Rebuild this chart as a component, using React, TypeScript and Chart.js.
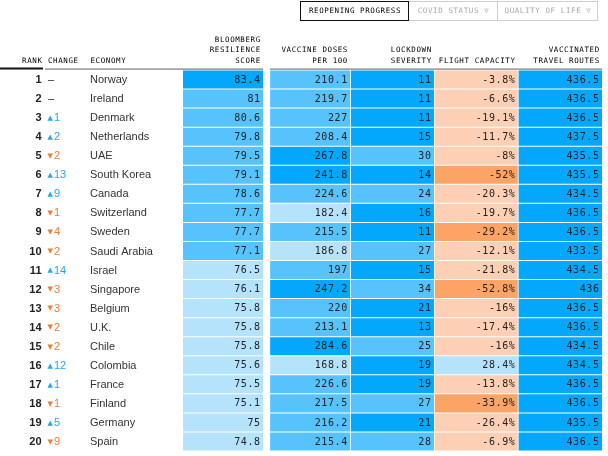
import React, { useEffect, useRef } from "react";
import { Chart, registerables } from "chart.js";

Chart.register(...registerables);

// ---- Data ----
const ranks = [1, 2, 3, 4, 5, 6, 7, 8, 9, 10, 11, 12, 13, 14, 15, 16, 17, 18, 19, 20];
const changes = [0, 0, 1, 2, -2, 13, 9, -1, -4, -2, 14, -3, -3, -2, -2, 12, 1, -1, 5, -9];
const economies = [
  "Norway", "Ireland", "Denmark", "Netherlands", "UAE", "South Korea", "Canada",
  "Switzerland", "Sweden", "Saudi Arabia", "Israel", "Singapore", "Belgium", "U.K.",
  "Chile", "Colombia", "France", "Finland", "Germany", "Spain",
];
const resilienceScore = [83.4, 81, 80.6, 79.8, 79.5, 79.1, 78.6, 77.7, 77.7, 77.1, 76.5, 76.1, 75.8, 75.8, 75.8, 75.6, 75.5, 75.1, 75, 74.8];
const vaccineDoses = [210.1, 219.7, 227, 208.4, 267.8, 241.8, 224.6, 182.4, 215.5, 186.8, 197, 247.2, 220, 213.1, 284.6, 168.8, 226.6, 217.5, 216.2, 215.4];
const lockdownSeverity = [11, 11, 11, 15, 30, 14, 24, 16, 11, 27, 15, 34, 21, 13, 25, 19, 19, 27, 21, 28];
const flightCapacity = [-3.8, -6.6, -19.1, -11.7, -8, -52, -20.3, -19.7, -29.2, -12.1, -21.8, -52.8, -16, -17.4, -16, 28.4, -13.8, -33.9, -26.4, -6.9];
const travelRoutes = [436.5, 436.5, 436.5, 437.5, 435.5, 435.5, 434.5, 436.5, 436.5, 433.5, 434.5, 436, 436.5, 436.5, 434.5, 434.5, 436.5, 436.5, 435.5, 436.5];

const columnHeaders = [
  ["BLOOMBERG", "RESILIENCE", "SCORE"],
  ["VACCINE DOSES", "PER 100"],
  ["LOCKDOWN", "SEVERITY"],
  ["FLIGHT CAPACITY"],
  ["VACCINATED", "TRAVEL ROUTES"],
];
const leftHeaders = ["RANK", "CHANGE", "ECONOMY"];
const tabs = ["REOPENING PROGRESS", "COVID STATUS \u25BD", "QUALITY OF LIFE \u25BD"];

// ---- Styles ----
const COLORS = {
  dark: "#03a7fb",
  mid: "#57c3fc",
  light: "#b5e3fc",
  peach: "#fdcfb4",
  orange: "#fca366",
};
const UP = "#22a8f2";
const DOWN = "#f47c32";

const colorResilience = (v: number) => (v >= 83 ? COLORS.dark : v >= 77 ? COLORS.mid : COLORS.light);
const colorVaccine = (v: number) => (v >= 235 ? COLORS.dark : v >= 190 ? COLORS.mid : COLORS.light);
const colorLockdown = (v: number) => (v <= 21 ? COLORS.dark : COLORS.mid);
const colorFlight = (v: number) => (v >= 0 ? COLORS.light : v <= -29 ? COLORS.orange : COLORS.peach);
const colorTravel = (_v: number) => COLORS.dark;

// column spans in x-scale units (layout)
const SPANS: [number, number][] = [
  [0, 0.955],
  [1.04, 1.995],
  [2.005, 2.995],
  [3.005, 3.995],
  [4.005, 5],
];

const MONO = '"DejaVu Sans Mono", monospace';
const SANS = '"Liberation Sans", Arial, sans-serif';

const tablePlugin = {
  id: "tablePlugin",
  afterDatasetsDraw(chart: any) {
    const ctx = chart.ctx as CanvasRenderingContext2D;
    ctx.save();
    ctx.textAlign = "right";
    ctx.textBaseline = "middle";
    ctx.font = `10px ${MONO}`;
    (ctx as any).letterSpacing = "0.6px";
    ctx.fillStyle = "#222";
    chart.data.datasets.forEach((ds: any, di: number) => {
      const meta = chart.getDatasetMeta(di);
      meta.data.forEach((el: any, i: number) => {
        const right = Math.max(el.x, el.base);
        ctx.fillText(ds.texts[i], right - 2.4, el.y + 0.5);
      });
    });
    ctx.restore();
  },
  afterDraw(chart: any) {
    const ctx = chart.ctx as CanvasRenderingContext2D;
    const xs = chart.scales.x;
    const ys = chart.scales.y;
    ctx.save();

    // left columns
    ctx.textBaseline = "middle";
    (ctx as any).letterSpacing = "0px";
    economies.forEach((name, i) => {
      const y = ys.getPixelForValue(i) + 0.5;
      ctx.textAlign = "right";
      ctx.font = `bold 11px ${SANS}`;
      ctx.fillStyle = "#222";
      ctx.fillText(String(ranks[i]), 41.5, y);

      ctx.textAlign = "left";
      const c = changes[i];
      if (c === 0) {
        ctx.font = `11px ${SANS}`;
        ctx.fillStyle = "#222";
        ctx.fillText("\u2013", 48, y);
      } else {
        const col = c > 0 ? UP : DOWN;
        ctx.fillStyle = col;
        ctx.font = `7px "DejaVu Sans", sans-serif`;
        ctx.fillText(c > 0 ? "\u25B2" : "\u25BC", 47.5, y);
        ctx.font = `11px ${SANS}`;
        ctx.fillText(String(Math.abs(c)), 54, y);
      }

      ctx.font = `11px ${SANS}`;
      ctx.fillStyle = "#333";
      ctx.fillText(name, 90, y);
    });

    // headers
    ctx.font = `7.5px ${MONO}`;
    (ctx as any).letterSpacing = "0.6px";
    ctx.fillStyle = "#000";
    const lastLineY = 61;
    const pitch = 10.5;
    ctx.textAlign = "right";
    ctx.fillText(leftHeaders[0], 42.5, lastLineY);
    ctx.textAlign = "left";
    ctx.fillText(leftHeaders[1], 48, lastLineY);
    ctx.fillText(leftHeaders[2], 90.5, lastLineY);
    ctx.textAlign = "right";
    columnHeaders.forEach((lines, ci) => {
      const right = xs.getPixelForValue(SPANS[ci][1]) - 2.2;
      lines.forEach((line, li) => {
        const y = lastLineY - (lines.length - 1 - li) * pitch;
        ctx.fillText(line, right, y);
      });
    });

    // header rules
    ctx.fillStyle = "#111";
    ctx.fillRect(0, 67.5, 43, 2);
    ctx.fillStyle = "#7a7a7a";
    const top = chart.chartArea.top;
    ctx.fillRect(45, top - 1.5, xs.getPixelForValue(SPANS[0][1]) - 45, 1.2);
    ctx.fillRect(
      xs.getPixelForValue(SPANS[1][0]),
      top - 1.5,
      xs.getPixelForValue(SPANS[4][1]) - xs.getPixelForValue(SPANS[1][0]),
      1.2
    );

    // tabs
    const tabEdges = [300, 408, 497, 597];
    const tabTop = 1.5;
    const tabH = 19;
    ctx.lineWidth = 1;
    ctx.strokeStyle = "#cfcfcf";
    for (let t = 1; t < 3; t++) {
      ctx.strokeRect(tabEdges[t] + 0.5, tabTop, tabEdges[t + 1] - tabEdges[t], tabH);
    }
    ctx.strokeStyle = "#111";
    ctx.strokeRect(tabEdges[0] + 0.5, tabTop, tabEdges[1] - tabEdges[0], tabH);
    ctx.textAlign = "center";
    ctx.font = `7.5px ${MONO}`;
    (ctx as any).letterSpacing = "0.6px";
    tabs.forEach((label, t) => {
      ctx.fillStyle = t === 0 ? "#000" : "#a8a8a8";
      const cx = (tabEdges[t] + tabEdges[t + 1]) / 2 + 1;
      ctx.fillText(label, cx, tabTop + tabH / 2 + 0.5);
    });

    ctx.restore();
  },
};

function makeDataset(values: number[], span: [number, number], colorFn: (v: number) => string, fmt: (v: number) => string) {
  return {
    data: values.map((_, i) => ({ x: [span[0], span[1]], y: economies[i] })),
    backgroundColor: values.map(colorFn),
    texts: values.map(fmt),
    borderWidth: 0,
    borderSkipped: false,
    grouped: false,
    barPercentage: 0.945,
    categoryPercentage: 1,
  };
}

export default function App() {
  const ref = useRef<HTMLCanvasElement | null>(null);
  useEffect(() => {
    document.body.style.margin = "0";
    const canvas = ref.current;
    if (!canvas) return;
    const fmt = (v: number) => String(v);
    const chart = new Chart(canvas, {
      type: "bar",
      data: {
        labels: economies,
        datasets: [
          makeDataset(resilienceScore, SPANS[0], colorResilience, fmt),
          makeDataset(vaccineDoses, SPANS[1], colorVaccine, fmt),
          makeDataset(lockdownSeverity, SPANS[2], colorLockdown, fmt),
          makeDataset(flightCapacity, SPANS[3], colorFlight, (v) => `${v}%`),
          makeDataset(travelRoutes, SPANS[4], colorTravel, fmt),
        ] as any,
      },
      options: {
        indexAxis: "y",
        animation: false,
        responsive: false,
        events: [],
        layout: { padding: { left: 183, right: 6, top: 70, bottom: 5 } },
        plugins: { legend: { display: false }, tooltip: { enabled: false } },
        scales: {
          x: { type: "linear", min: 0, max: 5, display: false },
          y: { type: "category", display: false, offset: true },
        },
      } as any,
      plugins: [tablePlugin],
    });
    return () => chart.destroy();
  }, []);
  return (
    <div style={{ width: 608, height: 456 }}>
      <canvas ref={ref} width={608} height={456} style={{ display: "block" }} />
    </div>
  );
}
